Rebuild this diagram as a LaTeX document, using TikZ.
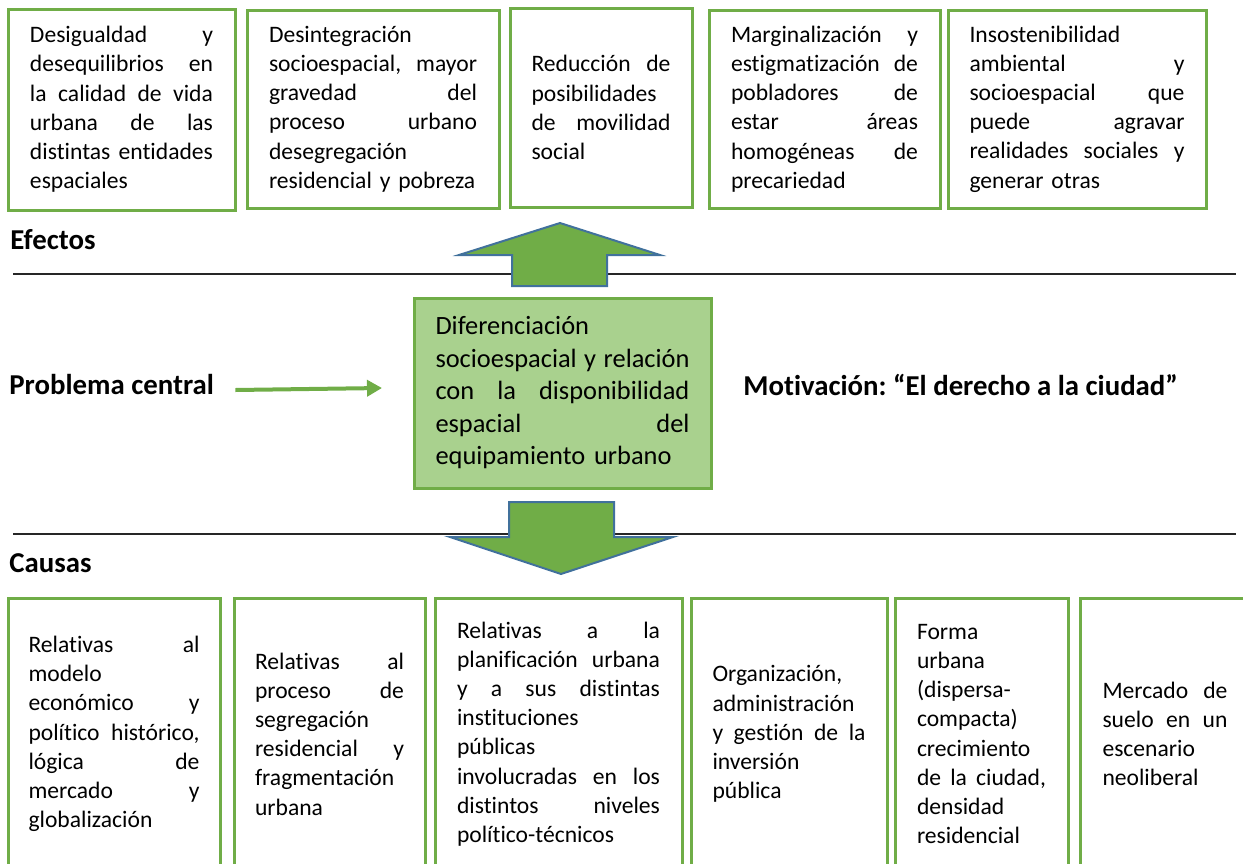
\documentclass[tikz,border=0pt]{standalone}
\usepackage{fontspec}
\setmainfont{Carlito}[Ligatures=NoCommon]
\frenchspacing
\usetikzlibrary{arrows.meta}

\definecolor{verde}{RGB}{112,173,71}
\definecolor{verdeclaro}{RGB}{169,209,142}
\definecolor{azulborde}{RGB}{65,113,156}

% justified line of a box
\newcommand{\jl}[1]{\leavevmode\hbox to \anchocaja{\spaceskip=\fontdimen2\font plus 1fil\relax #1}\\}

\tikzset{
  caja/.style={draw=verde, line width=1.5pt, inner sep=0pt, align=left, font=\fontsize{11.8}{14.6}\selectfont},
  ancho/.style={text width=#1, execute at begin node={\def\anchocaja{#1}}},
  titulo/.style={anchor=west, inner sep=0pt, font=\fontsize{14.4}{17}\selectfont\bfseries},
  bloque/.style={fill=verde, draw=azulborde, line width=1pt, line join=miter},
  flecha/.style={draw=verde, line width=2pt, -{Triangle[length=7.5pt,width=8pt]}},
}

\begin{document}
\begin{tikzpicture}[x=0.5pt,y=-0.5pt]
\useasboundingbox (0,0) rectangle (1243,863);
\clip (0,0) rectangle (1243,863);

%Straight Lines
\draw [line width=0.9pt, black!85] (13,274) -- (1236,274) ;
\draw [line width=0.9pt, black!85] (13,534) -- (1236,534) ;

%Shape: Rectangle (efectos)
\node [caja, ancho=91.5pt, minimum width=113.5pt, minimum height=100.5pt] (e1) at (121.5,109.5) {%
\jl{Desigualdad y}
\jl{desequilibrios en}
\jl{la calidad de vida}
\jl{urbana de las}
\jl{distintas entidades}
espaciales};
\node [caja, ancho=104pt, minimum width=126pt, minimum height=99pt] (e2) at (373,109) {%
Desintegración\\
\jl{socioespacial, mayor}
\jl{gravedad del}
\jl{proceso urbano}
desegregación\\
residencial y pobreza};
\node [caja, ancho=69.5pt, minimum width=91pt, minimum height=99.5pt] (e3) at (601,107.5) {%
\jl{Reducción de}
posibilidades\\
\jl{de movilidad}
social};
\node [caja, ancho=93.5pt, minimum width=115.5pt, minimum height=99pt] (e4) at (824.5,109) {%
\jl{Marginalización y}
\jl{estigmatización de}
\jl{pobladores de}
\jl{estar áreas}
\jl{homogéneas de}
precariedad};
\node [caja, ancho=107.5pt, minimum width=129pt, minimum height=99pt] (e5) at (1077,109) {%
Insostenibilidad\\
\jl{ambiental y}
\jl{socioespacial que}
\jl{puede agravar}
\jl{realidades sociales y}
generar otras};

%Shape: Rectangle (problema central)
\node [caja, fill=verdeclaro, ancho=127pt, minimum width=148.5pt, minimum height=95pt, font=\fontsize{13.2}{16.25}\selectfont] (central) at (562.5,393) {%
Diferenciación\\
\jl{socioespacial y relación}
\jl{con la disponibilidad}
\jl{espacial del}
equipamiento urbano};

%Shape: Rectangle (causas)
\node [caja, ancho=85.5pt, minimum width=106pt, minimum height=136pt] (c1) at (114,734) {%
\jl{Relativas al}
modelo\\
\jl{económico y}
\jl{político histórico,}
\jl{lógica de}
\jl{mercado y}
globalización};
\node [caja, ancho=74.5pt, minimum width=95.5pt, minimum height=136pt] (c2) at (329.5,734) {%
\jl{Relativas al}
\jl{proceso de}
segregación\\
\jl{residencial y}
fragmentación\\
urbana};
\node [caja, ancho=101.5pt, minimum width=123.5pt, minimum height=136pt] (c3) at (558.5,734) {%
\jl{Relativas a la}
\jl{planificación urbana}
\jl{y a sus distintas}
instituciones\\
públicas\\
\jl{involucradas en los}
\jl{distintos niveles}
político-técnicos};
\node [caja, ancho=76.5pt, minimum width=98pt, minimum height=136pt] (c4) at (789,734) {%
Organización,\\
administración\\
\jl{y gestión de la}
inversión\\
pública};
\node [caja, ancho=64.5pt, minimum width=86.5pt, minimum height=136pt] (c5) at (981.5,734) {%
Forma\\
urbana\\
(dispersa-\\
compacta)\\
crecimiento\\
\jl{de la ciudad,}
densidad\\
residencial};
\node [caja, ancho=62.5pt, minimum width=85pt, minimum height=136pt] (c6) at (1165,734) {%
\jl{Mercado de}
\jl{suelo en un}
escenario\\
neoliberal};

%Shape: Up Arrow
\draw [bloque] (560,223) -- (660,255) -- (607,255) -- (607,286) -- (512,286) -- (512,255) -- (459,255) -- cycle ;
%Shape: Down Arrow
\draw [bloque] (509,502) -- (614,502) -- (614,537) -- (673,537) -- (561,574) -- (450,537) -- (509,537) -- cycle ;

% Text Node
\node [titulo] (efectos) at (10,240) {Efectos};
% Text Node
\node [titulo] (problema) at (9,384) {Problema central};
% Text Node
\node [titulo] (causas) at (9,563) {Causas};
% Text Node
\node [titulo] (motivacion) at (743,385) {Motivación: “El derecho a la ciudad”};

%Straight Lines
\coordinate (pfin) at (382,388);
\draw [flecha] ([xshift=10.5pt,yshift=-3pt]problema.east) -- (pfin) ;

\end{tikzpicture}
\end{document}
